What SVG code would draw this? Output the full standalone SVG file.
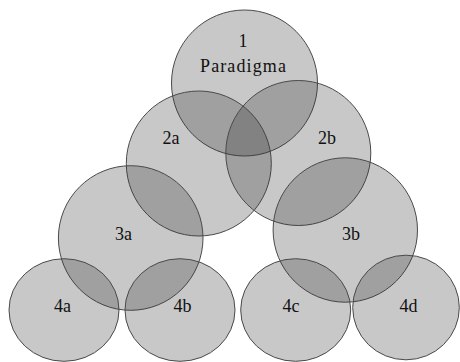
<svg xmlns="http://www.w3.org/2000/svg" width="460" height="362" viewBox="0 0 460 362">
<style>
.c{fill:#333;fill-opacity:0.27;stroke:#4a4a4a;stroke-width:1}
.t{font-size:18px;fill:#111;text-anchor:middle}
</style>
<rect width="460" height="362" fill="#fff"/>
<g id="node-1"><circle class="c" cx="244.5" cy="83" r="73"/><text class="t" font-family="Liberation Serif, Times New Roman, serif" x="243" y="47">1</text><text class="t" font-family="Liberation Serif, Times New Roman, serif" x="243" y="71.5" textLength="86" lengthAdjust="spacing">Paradigma</text></g>
<g id="node-2a"><circle class="c" cx="198.8" cy="163.5" r="72.5"/><text class="t" font-family="Liberation Serif, Times New Roman, serif" x="171" y="144">2a</text></g>
<g id="node-2b"><circle class="c" cx="298.3" cy="153" r="72.5"/><text class="t" font-family="Liberation Serif, Times New Roman, serif" x="327" y="144">2b</text></g>
<g id="node-3a"><circle class="c" cx="130.7" cy="238" r="72.3"/><text class="t" font-family="Liberation Serif, Times New Roman, serif" x="123.5" y="240">3a</text></g>
<g id="node-3b"><circle class="c" cx="345.3" cy="230" r="72.2"/><text class="t" font-family="Liberation Serif, Times New Roman, serif" x="351" y="240">3b</text></g>
<g id="node-4a"><ellipse class="c" cx="64" cy="310" rx="55" ry="51.3"/><text class="t" font-family="Liberation Serif, Times New Roman, serif" x="62.5" y="311.5">4a</text></g>
<g id="node-4b"><ellipse class="c" cx="180" cy="310" rx="55" ry="51.3"/><text class="t" font-family="Liberation Serif, Times New Roman, serif" x="182.5" y="311.5">4b</text></g>
<g id="node-4c"><ellipse class="c" cx="295.7" cy="310" rx="55" ry="51.3"/><text class="t" font-family="Liberation Serif, Times New Roman, serif" x="291" y="311.5">4c</text></g>
<g id="node-4d"><ellipse class="c" cx="406" cy="307.5" rx="53.3" ry="52.3"/><text class="t" font-family="Liberation Serif, Times New Roman, serif" x="408.5" y="311.5">4d</text></g>
<g id="connectors"></g>
</svg>
